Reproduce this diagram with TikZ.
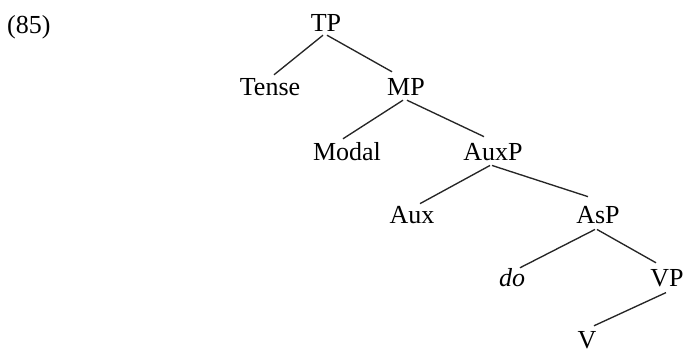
\documentclass[tikz,border=0pt]{standalone}
\usepackage{fontspec}
\setmainfont{Liberation Serif}
\begin{document}
\begin{tikzpicture}[x=1pt,y=-1pt,
  lab/.style={inner sep=0pt, anchor=base, font=\fontsize{26}{30}\selectfont},
  edge/.style={line width=1.35pt, black!85}]
\useasboundingbox (0,0) rectangle (685,349);
\node[lab, anchor=base west] (num) at (7,33) {(85)};
\node[lab] (TP) at (326,31) {TP};
\node[lab] (Tense) at (270,95) {Tense};
\node[lab] (MP) at (406,95) {MP};
\node[lab] (Modal) at (347,160) {Modal};
\node[lab] (AuxP) at (493,160) {AuxP};
\node[lab] (Aux) at (412,223) {Aux};
\node[lab] (AsP) at (598,223) {AsP};
\node[lab] (do) at (512,286) {\itshape do};
\node[lab] (VP) at (667,286) {VP};
\node[lab] (V) at (587,348) {V};
\draw[edge] ([shift={(-3,4)}]TP.south) -- ([shift={(4,-3)}]Tense.north);
\draw[edge] ([shift={(1,4)}]TP.south) -- ([shift={(-14,-6)}]MP.north);
\draw[edge] ([shift={(-3,5)}]MP.south) -- ([shift={(-4,-3)}]Modal.north);
\draw[edge] ([shift={(1,5)}]MP.south) -- ([shift={(-9,-6)}]AuxP.north);
\draw[edge] ([shift={(-3,5)}]AuxP.south) -- ([shift={(8,-2)}]Aux.north);
\draw[edge] ([shift={(-1,5)}]AuxP.south) -- ([shift={(-10,-9)}]AsP.north);
\draw[edge] ([shift={(-3,6)}]AsP.south) -- ([shift={(8,0)}]do.north);
\draw[edge] ([shift={(-1,6)}]AsP.south) -- ([shift={(-11,-6)}]VP.north);
\draw[edge] ([shift={(-1,6)}]VP.south) -- ([shift={(7,-5)}]V.north);
\end{tikzpicture}
\end{document}
